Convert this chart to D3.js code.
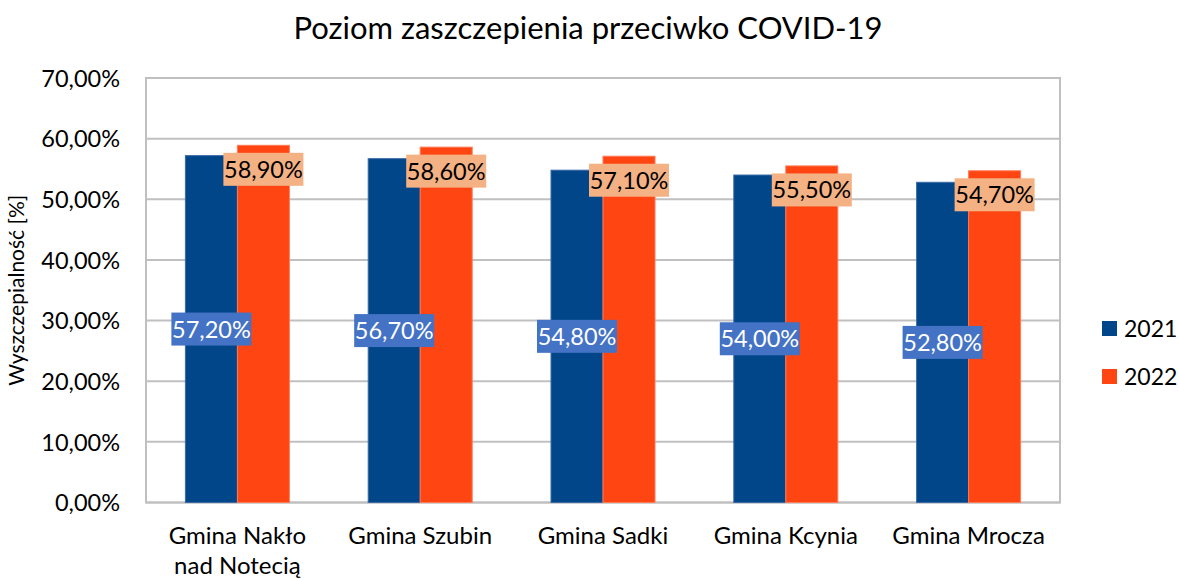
<!DOCTYPE html>
<html>
<head>
<meta charset="utf-8">
<script src="https://d3js.org/d3.v7.min.js"></script>
<style>
  body { margin: 0; background: #fff; }
  text { font-family: Lato, "Open Sans", sans-serif; }
</style>
</head>
<body>
<svg width="1179" height="580"></svg>
<script>
  const categories = [["Gmina Nakło", "nad Notecią"], ["Gmina Szubin"], ["Gmina Sadki"], ["Gmina Kcynia"], ["Gmina Mrocza"]];
  const series = ["2021", "2022"];
  const values2021 = [57.2, 56.7, 54.8, 54.0, 52.8];
  const values2022 = [58.9, 58.6, 57.1, 55.5, 54.7];
  const yTicks = [0, 10, 20, 30, 40, 50, 60, 70];

  const svg = d3.select("svg");
  const pLeft = 146, pRight = 1060, pTop = 78, pBottom = 502.5;

  const fmt = v => v.toFixed(2).replace(".", ",") + "%";

  const x0 = d3.scaleBand()
    .domain(d3.range(categories.length))
    .range([pLeft, pRight]);

  const x1 = d3.scaleBand()
    .domain(series)
    .range([x0.bandwidth() / 2 - 52, x0.bandwidth() / 2 + 52]);

  const y = d3.scaleLinear()
    .domain([0, 70])
    .range([pBottom, pTop]);

  const colors = { "2021": "#004688", "2022": "#FF4511" };
  const labelBg = { "2021": "#4472C4", "2022": "#F4B183" };
  const labelFg = { "2021": "#ffffff", "2022": "#000000" };

  // gridlines
  svg.append("g")
    .selectAll("line")
    .data(yTicks)
    .enter().append("line")
    .attr("x1", pLeft).attr("x2", pRight)
    .attr("y1", d => y(d)).attr("y2", d => y(d))
    .attr("stroke", "#c0c0c0")
    .attr("stroke-width", 2);

  // frame
  svg.append("rect")
    .attr("x", pLeft).attr("y", pTop)
    .attr("width", pRight - pLeft).attr("height", pBottom - pTop)
    .attr("fill", "none")
    .attr("stroke", "#c0c0c0")
    .attr("stroke-width", 2);

  // y axis labels
  const yAxis = svg.append("g")
    .attr("transform", `translate(${pLeft - 26},0)`)
    .call(d3.axisLeft(y).tickValues(yTicks).tickSize(0).tickFormat(fmt));
  yAxis.select(".domain").remove();
  yAxis.selectAll("text")
    .attr("x", 0)
    .attr("dy", "0.35em")
    .style("font-size", "23.5px")
    .attr("fill", "#000");

  const rows = [];
  categories.forEach((c, i) => {
    rows.push({ i, s: "2021", v: values2021[i] });
    rows.push({ i, s: "2022", v: values2022[i] });
  });

  // bars
  svg.append("g")
    .selectAll("rect")
    .data(rows)
    .enter().append("rect")
    .attr("x", d => x0(d.i) + x1(d.s))
    .attr("width", x1.bandwidth())
    .attr("y", d => y(d.v))
    .attr("height", d => y(0) - y(d.v))
    .attr("fill", d => colors[d.s])
    .attr("stroke", d => d.s === "2022" ? "#ff7a55" : "#3a6aa8")
    .attr("stroke-width", 1);

  // data labels
  const labels = svg.append("g")
    .selectAll("g")
    .data(rows)
    .enter().append("g")
    .attr("transform", d => {
      const cx = x0(d.i) + x1(d.s) + x1.bandwidth() / 2;
      const cy = d.s === "2021" ? (y(d.v) + y(0)) / 2 : y(d.v) + 24;
      return `translate(${cx},${cy})`;
    });

  labels.append("rect")
    .attr("x", -40).attr("y", -16.5)
    .attr("width", 80).attr("height", 33)
    .attr("fill", d => labelBg[d.s]);

  labels.append("text")
    .attr("text-anchor", "middle")
    .attr("dy", "0.36em")
    .style("font-size", "23.5px")
    .attr("fill", d => labelFg[d.s])
    .text(d => fmt(d.v));

  // x axis labels
  const xl = svg.append("g")
    .selectAll("text")
    .data(categories)
    .enter().append("text")
    .attr("x", (d, i) => x0(i) + x0.bandwidth() / 2)
    .attr("y", 544)
    .attr("text-anchor", "middle")
    .style("font-size", "24px")
    .attr("fill", "#000");
  xl.selectAll("tspan")
    .data(d => d)
    .enter().append("tspan")
    .attr("x", function() { return d3.select(this.parentNode).attr("x"); })
    .attr("dy", (d, j) => j === 0 ? 0 : 30)
    .text(d => d);

  // title
  svg.append("text")
    .attr("x", 588).attr("y", 39)
    .attr("text-anchor", "middle")
    .style("font-size", "31px")
    .attr("fill", "#000")
    .text("Poziom zaszczepienia przeciwko COVID-19");

  // y title
  svg.append("text")
    .attr("transform", `translate(24,${(pTop + pBottom) / 2}) rotate(-90)`)
    .attr("text-anchor", "middle")
    .style("font-size", "21px")
    .attr("fill", "#000")
    .text("Wyszczepialność [%]");

  // legend
  const legend = svg.selectAll(".legend")
    .data(series)
    .enter().append("g")
    .attr("class", "legend")
    .attr("transform", (d, i) => `translate(1102,${321 + i * 48})`);

  legend.append("rect")
    .attr("width", 15).attr("height", 15)
    .attr("fill", d => colors[d]);

  legend.append("text")
    .attr("x", 22).attr("y", 8)
    .attr("dy", "0.36em")
    .style("font-size", "23px")
    .attr("fill", "#000")
    .text(d => d);
</script>
</body>
</html>
